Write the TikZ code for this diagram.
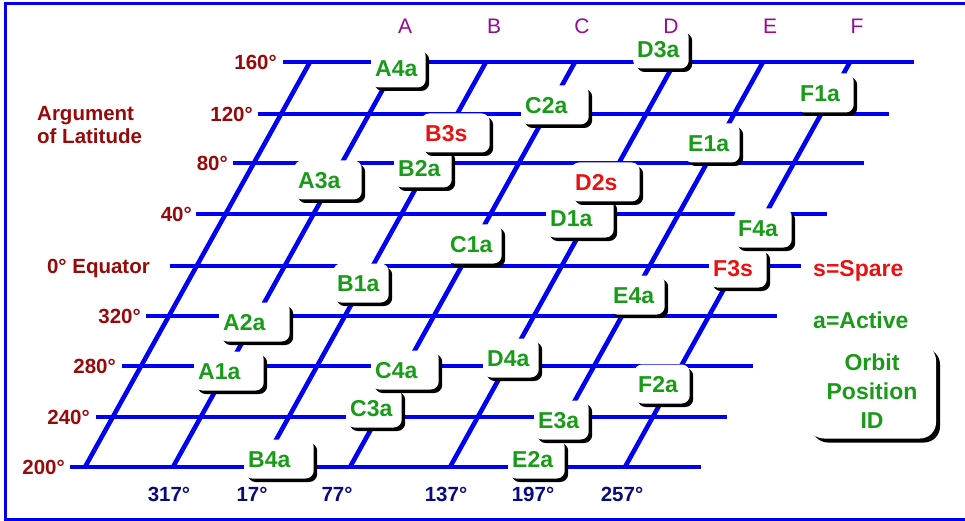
\documentclass[tikz,border=0pt]{standalone}
\usepackage{fontspec}
\setmainfont{Liberation Sans}
\usetikzlibrary{shadows}
\definecolor{gridblue}{RGB}{0,0,240}
\definecolor{latred}{RGB}{150,10,10}
\definecolor{satgreen}{RGB}{25,155,25}
\definecolor{sparered}{RGB}{232,18,18}
\definecolor{planepurple}{RGB}{150,10,150}
\definecolor{raannavy}{RGB}{10,10,128}
\begin{document}
\begin{tikzpicture}[x=1pt,y=-1pt,
  gridline/.style={draw=gridblue, line width=3.6pt},
  planeline/.style={draw=gridblue, line width=4.6pt},
  latlabel/.style={text=latred, font=\bfseries\fontsize{20.5}{23}\selectfont,
    anchor=east, inner sep=0pt, text height=14.7pt, text depth=0pt},
  raanlabel/.style={text=raannavy, font=\bfseries\fontsize{20.5}{23}\selectfont,
    inner sep=0pt, text height=14.7pt, text depth=0pt},
  planelabel/.style={text=planepurple, font=\fontsize{21}{24}\selectfont,
    inner sep=0pt, text height=15pt, text depth=0pt},
  sat/.style={fill=white, rounded corners=8pt,
    drop shadow={shadow xshift=3.5pt, shadow yshift=-3.5pt, fill=black, opacity=1},
    anchor=west, inner xsep=4pt, inner ysep=0pt, minimum height=39pt,
    text width=#1, align=left, text height=16.5pt, text depth=0pt,
    font=\bfseries\fontsize{23}{26}\selectfont, text=satgreen},
  spare/.style={text=sparered},
  legendtext/.style={font=\bfseries\fontsize{23}{26}\selectfont, anchor=west,
    inner sep=0pt, text height=16.5pt, text depth=0pt},
]
\clip (0,0) rectangle (965,521);
\fill[white] (0,0) rectangle (965,521);

% frame
\draw[gridblue, line width=3.6pt] (5.5,3.5) rectangle (990,519.5);

% lines of constant argument of latitude
\foreach \k/\xs/\yy in {0/70/467, 1/96/417, 2/122/366, 3/146/316, 4/170/266,
                        5/196/214, 6/233/163, 7/258/114, 8/283/62} {
  \coordinate (lat\k-w) at (\xs,\yy);
  \coordinate (lat\k-e) at (\xs+631,\yy);
  \draw[gridline] (lat\k-w) -- (lat\k-e);
}

% orbital planes
\foreach \p/\xb in {W/85, A/173, B/261, C/350, D/450, E/538, F/625} {
  \coordinate (plane\p-bot) at (\xb,467);
  \coordinate (plane\p-top) at (\xb+225,62);
  \draw[planeline] (plane\p-bot) -- (plane\p-top);
}

% latitude labels
\node[latlabel] (l200) at ([xshift=-5pt]lat0-w) {200°};
\node[latlabel] (l240) at ([xshift=-6pt]lat1-w) {240°};
\node[latlabel] (l280) at ([xshift=-6pt]lat2-w) {280°};
\node[latlabel] (l320) at ([xshift=-5pt]lat3-w) {320°};
\node[latlabel] (l0)   at ([xshift=-20pt]lat4-w) {0° Equator};
\node[latlabel] (l40)  at ([xshift=-4pt]lat5-w) {40°};
\node[latlabel] (l80)  at ([xshift=-5pt]lat6-w) {80°};
\node[latlabel] (l120) at ([xshift=-5pt]lat7-w) {120°};
\node[latlabel] (l160) at ([xshift=-6pt]lat8-w) {160°};
\node[text=latred, font=\bfseries\fontsize{20.5}{23}\selectfont, anchor=north west,
  inner sep=0pt, align=left] (arglat) at (37,106.6) {Argument\\of Latitude};

% right ascensions
\node[raanlabel] (r317) at (169,494) {317°};
\node[raanlabel] (r17)  at (252,494) {17°};
\node[raanlabel] (r77)  at (337,494) {77°};
\node[raanlabel] (r137) at (446,494) {137°};
\node[raanlabel] (r197) at (533,494) {197°};
\node[raanlabel] (r257) at (622,494) {257°};

% satellites, lower rows first
\node[sat=61.5pt] (B4a) at (244,459) {B4a};
\node[sat=48.5pt] (E2a) at (508,459) {E2a};
\node[sat=46.5pt] (E3a) at (534,420) {E3a};
\node[sat=47.5pt] (C3a) at (346,408) {C3a};
\node[sat=47.5pt] (F2a) at (634,384) {F2a};
\node[sat=61.5pt] (A1a) at (194,371) {A1a};
\node[sat=59.5pt] (C4a) at (371,370) {C4a};
\node[sat=47.5pt] (D4a) at (483,358) {D4a};
\node[sat=62.5pt] (A2a) at (219,322) {A2a};
\node[sat=47.5pt] (E4a) at (609,295) {E4a};
\node[sat=47.5pt] (B1a) at (333,283) {B1a};
\node[sat=49.5pt, spare] (F3s) at (709,268) {F3s};
\node[sat=47.5pt] (C1a) at (446,244) {C1a};
\node[sat=49.5pt] (F4a) at (734,228) {F4a};
\node[sat=59.5pt] (D1a) at (546,218) {D1a};
\node[sat=60.5pt, spare] (D2s) at (571,182) {D2s};
\node[sat=59.5pt] (A3a) at (294,180) {A3a};
\node[sat=49.5pt] (B2a) at (394,168) {B2a};
\node[sat=47.5pt] (E1a) at (684,143) {E1a};
\node[sat=60.5pt, spare] (B3s) at (421,133) {B3s};
\node[sat=59.5pt] (C2a) at (521,105) {C2a};
\node[sat=49.5pt] (F1a) at (796,93) {F1a};
\node[sat=46.5pt] (A4a) at (371,68) {A4a};
\node[sat=47.5pt] (D3a) at (633,49) {D3a};

% plane letters
\node[planelabel] (nA) at (405,26) {A};
\node[planelabel] (nB) at (494,26) {B};
\node[planelabel] (nC) at (582,26) {C};
\node[planelabel] (nD) at (671,26) {D};
\node[planelabel] (nE) at (770,26) {E};
\node[planelabel] (nF) at (857,26) {F};

% legend
\node[legendtext, text=sparered] (keyS) at (813,268) {s=Spare};
\node[legendtext, text=satgreen] (keyA) at (813,320) {a=Active};
\node[fill=white, rounded corners=16pt,
  drop shadow={shadow xshift=4pt, shadow yshift=-4pt, fill=black, opacity=1},
  minimum width=128pt, minimum height=94pt, inner sep=0pt, align=center,
  font=\bfseries\fontsize{23}{29}\selectfont, text=satgreen]
  (keyID) at (872,391.5) {Orbit\\Position\\ID};
\end{tikzpicture}
\end{document}
